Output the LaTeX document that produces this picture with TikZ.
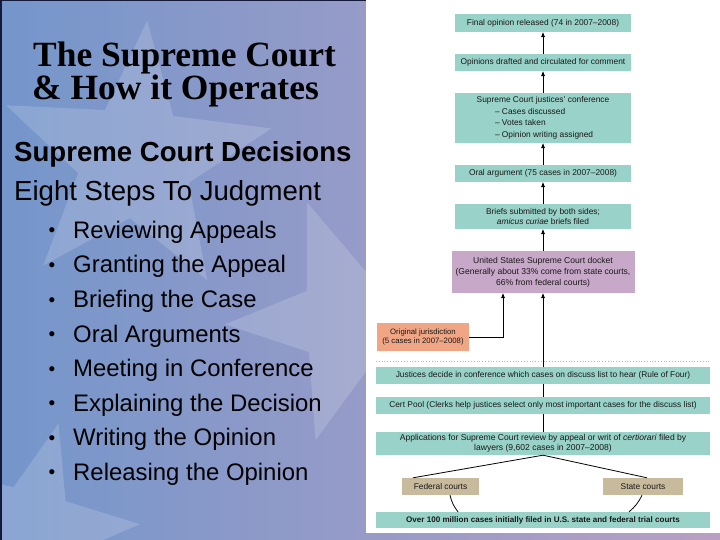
\documentclass[tikz,border=0pt]{standalone}
\usepackage{fontspec}
\setmainfont{Liberation Serif}
\setsansfont{Liberation Sans}
\usetikzlibrary{shapes.geometric,arrows.meta}
\definecolor{bgL}{RGB}{116,150,203}
\definecolor{bgR}{RGB}{184,160,196}
\definecolor{tealbox}{RGB}{152,210,200}
\definecolor{mauvebox}{RGB}{200,168,200}
\definecolor{salmonbox}{RGB}{240,166,132}
\definecolor{tanbox}{RGB}{200,186,156}
\definecolor{txt}{RGB}{25,25,25}
\definecolor{navyedge}{RGB}{20,25,60}
\newcommand\chartfnt{\sffamily\fontsize{8.4}{10}\selectfont}
\begin{document}
\begin{tikzpicture}[x=1bp,y=-1bp,
  cbox/.style={fill=tealbox, inner sep=0pt, align=center, font=\chartfnt, text=txt},
  arr/.style={-{Triangle[length=5bp,width=3.6bp]}, line width=0.8bp, draw=black},
  ln/.style={line width=0.8bp, draw=black},
  bstar/.style={star, star points=5, star point ratio=2.4, fill=white, opacity=0.16, inner sep=0pt},
  bul/.style={font=\sffamily\fontsize{24}{24}\selectfont, text=black, inner sep=0pt, anchor=base west}
]
\path[use as bounding box] (0,0) rectangle (720,540);
\shade[left color=bgL, right color=bgR] (0,0) rectangle (720,540);
% faint stars in the background
\node[bstar, minimum size=280bp, rotate=-5] (st1) at (135,160) {};
\node[bstar, minimum size=250bp, rotate=20] (st2) at (350,320) {};
\node[bstar, minimum size=220bp, rotate=-15] (st3) at (30,530) {};
% frame lines
\draw[navyedge, line width=1.5bp] (0.75,0) -- (0.75,540);
\draw[navyedge, line width=1.2bp] (0,0.6) -- (366,0.6);
% white panel
\fill[white] (366,0) rectangle (720,533);

% left text
\node[font=\rmfamily\bfseries\fontsize{35.6}{36}\selectfont, inner sep=0pt, anchor=base west] (t1) at (33,66.7) {The Supreme Court};
\node[font=\rmfamily\bfseries\fontsize{35.6}{36}\selectfont, inner sep=0pt, anchor=base west] (t2) at (32,99.5) {\& How it Operates};
\node[font=\sffamily\bfseries\fontsize{27.7}{28}\selectfont, inner sep=0pt, anchor=base west] (t3) at (14,161.7) {Supreme Court Decisions};
\node[font=\sffamily\fontsize{27.7}{28}\selectfont, inner sep=0pt, anchor=base west] (t4) at (14,201) {Eight Steps To Judgment};
\foreach \i/\s in {0/Reviewing Appeals,1/Granting the Appeal,2/Briefing the Case,3/Oral Arguments,4/Meeting in Conference,5/Explaining the Decision,6/Writing the Opinion,7/Releasing the Opinion}{
  \node[bul, font=\sffamily\fontsize{19}{19}\selectfont] (b\i) at (48.5,237+34.5*\i) {\textbullet};
  \node[bul] (l\i) at (73,238.5+34.5*\i) {\s};
}

% flowchart
\node[cbox, minimum width=176bp, minimum height=18bp] (fin) at (543,23) {Final opinion released (74 in 2007–2008)};
\node[cbox, minimum width=176bp, minimum height=17bp] (draft) at (543,62.5) {Opinions drafted and circulated for comment};
\node[cbox, minimum width=176bp, minimum height=50bp, font=\sffamily\fontsize{8.4}{11.5}\selectfont] (conf) at (543,118) {Supreme Court justices’ conference\\\makebox[96bp][l]{– Cases discussed}\\\makebox[96bp][l]{– Votes taken}\\\makebox[96bp][l]{– Opinion writing assigned}};
\node[cbox, minimum width=176bp, minimum height=17bp] (oral) at (543,173.5) {Oral argument (75 cases in 2007–2008)};
\node[cbox, minimum width=176bp, minimum height=25bp, font=\sffamily\fontsize{8.4}{10}\selectfont] (briefs) at (543,216.5) {Briefs submitted by both sides;\\\textit{amicus curiae} briefs filed};
\node[cbox, fill=mauvebox, minimum width=183bp, minimum height=42bp, font=\sffamily\fontsize{8.6}{11}\selectfont] (docket) at (543,272) {United States Supreme Court docket\\(Generally about 33\% come from state courts,\\66\% from federal courts)};
\node[cbox, fill=salmonbox, minimum width=92bp, minimum height=28bp, font=\sffamily\fontsize{7.8}{9.5}\selectfont] (orig) at (423,337) {Original jurisdiction\\(5 cases in 2007–2008)};
\draw[gray!55, dotted, line width=0.8bp] (376,361) -- (710,361);
\node[cbox, minimum width=334bp, minimum height=17bp] (just) at (543,375.5) {Justices decide in conference which cases on discuss list to hear (Rule of Four)};
\node[cbox, minimum width=334bp, minimum height=17bp] (cert) at (543,405.5) {Cert Pool (Clerks help justices select only most important cases for the discuss list)};
\node[cbox, minimum width=334bp, minimum height=23bp, font=\sffamily\fontsize{8.6}{10.5}\selectfont] (apps) at (543,443.5) {Applications for Supreme Court review by appeal or writ of \textit{certiorari} filed by\\lawyers (9,602 cases in 2007–2008)};
\node[cbox, fill=tanbox, minimum width=77bp, minimum height=17bp] (fed) at (440.5,486.5) {Federal courts};
\node[cbox, fill=tanbox, minimum width=80bp, minimum height=17bp] (state) at (643,486.5) {State courts};
\node[cbox, minimum width=334bp, minimum height=16bp, font=\sffamily\bfseries\fontsize{8.1}{9}\selectfont] (trial) at (543,520) {Over 100 million cases initially filed in U.S. state and federal trial courts};

\draw[arr] (draft) -- (fin);
\draw[arr] (conf) -- (draft);
\draw[arr] (oral) -- (conf);
\draw[arr] (briefs) -- (oral);
\draw[arr] (docket) -- (briefs);
\draw[arr] (just) -- (docket);
\draw[arr] (orig.east) -| ([xshift=-40bp]docket.south);
\draw[ln] (cert) -- (just);
\draw[ln] (apps) -- (cert);
\draw[ln] (apps.south) -- ([xshift=-27.5bp]fed.north);
\draw[ln] (apps.south) -- ([xshift=4bp]state.north);
\draw[ln] ([xshift=9.5bp]fed.south) to[bend right=12] ([xshift=-85bp]trial.north);
\draw[ln] ([xshift=-1bp]state.south) to[bend left=12] ([xshift=86bp]trial.north);
\end{tikzpicture}
\end{document}
